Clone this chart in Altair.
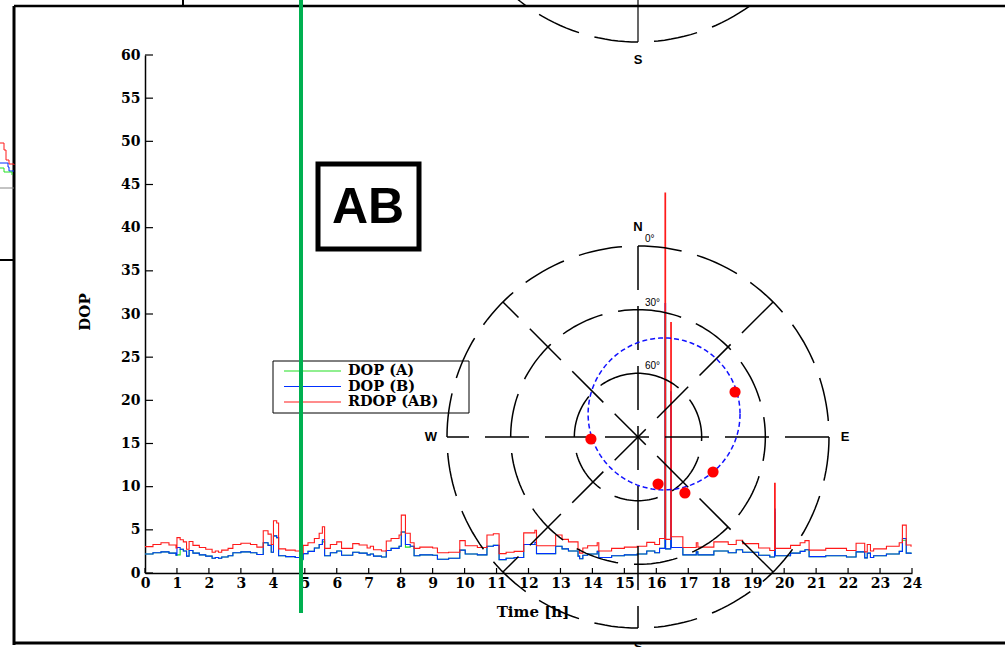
import altair as alt
import numpy as np
import pandas as pd

# ---------------- data ----------------
HOURS = [0.0, 0.25, 0.5, 0.75, 0.97, 1.0, 1.1, 1.2, 1.3, 1.38, 1.5, 1.7, 1.9, 2.1, 2.2, 2.3, 2.4, 2.6,
         2.75, 3.0, 3.3, 3.5, 3.7, 3.85, 3.95, 4.02, 4.12, 4.18, 4.4, 4.7, 4.85, 4.95, 5.1, 5.3, 5.45,
         5.55, 5.62, 5.8, 6.0, 6.15, 6.5, 6.7, 6.95, 7.05, 7.15, 7.4, 7.55, 7.7, 7.95, 8.02, 8.15, 8.3,
         8.42, 8.6, 9.0, 9.15, 9.5, 9.85, 10.02, 10.4, 10.7, 10.9, 11.08, 11.3, 11.55, 11.85, 12.2, 12.25,
         12.85, 13.05, 13.25, 13.55, 13.6, 13.7, 13.85, 14.15, 14.2, 14.6, 15.0, 15.4, 15.7, 15.95, 16.1,
         16.27, 16.29, 16.45, 16.47, 16.83, 17.25, 17.3, 17.8, 18.25, 18.5, 18.7, 19.2, 19.55, 19.7,
         19.72, 20.2, 20.5, 20.65, 20.78, 21.3, 21.95, 22.25, 22.52, 22.6, 22.7, 22.8, 23.2, 23.6, 23.7,
         23.82, 23.97]
RDOP_AB = [3.05, 3.3, 3.5, 3.25, 2.9, 4.1, 3.85, 3.6, 2.75, 3.65, 3.2, 2.95, 2.75, 2.4, 2.55, 2.4, 2.65, 2.85,
           3.3, 3.45, 3.3, 3.0, 4.9, 4.5, 3.3, 6.05, 5.8, 2.8, 2.65, 2.55, 2.3, 3.2, 3.5, 4.0, 4.6,
           5.35, 2.85, 3.3, 3.6, 2.85, 3.4, 3.25, 2.9, 3.1, 2.7, 2.55, 3.7, 4.0, 4.4, 6.7, 4.6, 3.5,
           2.85, 3.0, 2.9, 2.35, 2.4, 3.75, 3.15, 2.95, 4.4, 4.55, 2.25, 2.4, 2.5, 4.65, 4.95, 3.15,
           4.4, 3.9, 3.6, 2.75, 2.3, 2.9, 3.15, 3.5, 2.55, 2.85, 3.0, 3.1, 3.55, 3.3, 4.0,
           44.0, 3.9, 29.0, 4.2, 2.95, 3.5, 3.0, 3.6, 3.3, 3.8, 3.4, 2.9, 2.6, 10.4,
           2.85, 3.2, 3.5, 3.75, 2.65, 2.85, 2.6, 3.45, 2.45, 3.3, 2.55, 2.8, 3.1, 3.5, 5.55,
           3.25, 3.05]
DOP_B = [2.2, 2.35, 2.45, 2.3, 2.05, 2.95, 2.75, 2.55, 1.95, 2.6, 2.3, 2.1, 1.95, 1.7, 1.8, 1.7, 1.85, 2.0,
         2.35, 2.45, 2.35, 2.15, 3.5, 3.2, 2.4, 4.3, 4.1, 2.0, 1.9, 1.8, 1.6, 2.25, 2.5, 2.9, 3.3,
         3.85, 2.0, 2.35, 2.55, 2.05, 2.4, 2.3, 2.1, 2.2, 1.95, 1.85, 2.6, 2.85, 3.1, 4.75, 3.3, 3.1,
         2.0, 2.1, 2.05, 1.6, 1.7, 2.65, 2.2, 2.1, 3.1, 3.2, 1.55, 1.7, 1.8, 3.3, 3.55, 2.25,
         3.1, 2.8, 2.55, 1.95, 1.65, 2.05, 2.2, 2.5, 1.8, 2.0, 2.1, 2.2, 2.55, 2.35, 2.85,
         31.2, 2.8, 21.0, 2.95, 2.1, 2.45, 2.1, 2.55, 2.35, 2.7, 2.4, 2.05, 1.85, 7.4,
         2.0, 2.3, 2.5, 2.7, 1.9, 2.0, 1.85, 2.45, 1.75, 2.3, 1.8, 2.0, 2.2, 2.5, 4.0,
         2.3, 2.2]
DOP_A = [2.2, 2.35, 2.45, 2.3, 2.05, 2.1, 2.75, 2.55, 1.95, 2.6, 2.3, 2.1, 1.95, 1.7, 1.8, 1.7, 1.85, 2.0,
         2.35, 2.45, 2.35, 2.15, 3.5, 3.2, 2.4, 4.3, 4.1, 2.0, 1.9, 1.8, 1.55, 2.25, 2.5, 2.9, 3.3,
         3.6, 2.0, 2.35, 2.55, 2.05, 2.4, 2.3, 2.1, 2.2, 1.95, 1.85, 2.6, 2.85, 3.1, 4.75, 3.0, 3.1,
         2.0, 2.1, 2.05, 1.6, 1.7, 2.65, 2.2, 2.1, 3.1, 3.2, 1.55, 1.7, 1.8, 3.3, 3.3, 2.25,
         3.1, 2.8, 2.55, 1.95, 1.65, 2.05, 2.2, 2.5, 1.8, 2.0, 2.1, 2.2, 2.55, 2.35, 2.85,
         30.0, 2.8, 21.0, 2.95, 2.1, 2.45, 2.1, 2.55, 2.35, 2.7, 2.4, 2.05, 1.85, 7.0,
         2.0, 2.3, 2.5, 2.7, 1.9, 2.0, 1.85, 2.45, 1.75, 2.3, 1.8, 2.0, 2.2, 2.5, 3.8,
         2.3, 2.2]

SERIES_NAMES = ["DOP (A)", "DOP (B)", "RDOP (AB)"]
SERIES_COLORS = ["#22e022", "#0030ff", "#ff1a1a"]
X_TICKS = list(range(0, 25))
Y_TICKS = list(range(0, 61, 5))

# skyplot (azimuth / elevation in degrees)
SAT_AZ = [267.6, 156.9, 140.0, 115.0, 65.1]
SAT_EL = [67.8, 65.9, 55.6, 51.0, 39.6]
RING_EL = [0, 30, 60]
RING_LABELS = ["0°", "30°", "60°"]
SPOKE_AZ = [0, 45, 90, 135]
CONE_AZ, CONE_EL, CONE_RADIUS_DEG = 48.5, 73.6, 35.8

# ---------------- layout (page pixels) ----------------
PLOT_LEFT, PLOT_TOP, PLOT_W, PLOT_H = 145, 55, 767, 518
SKY_CX, SKY_CY, SKY_R = 638, 437, 191
SKY2_CY = -149
SERIF = "DejaVu Serif"
SANS = "Liberation Sans"


def px(x):
    return x - PLOT_LEFT


def py(y):
    return y - PLOT_TOP


def sky_xy(az, el, cx=SKY_CX, cy=SKY_CY):
    r = SKY_R * (90 - np.asarray(el, dtype=float)) / 90.0
    a = np.radians(np.asarray(az, dtype=float))
    return px(cx + r * np.sin(a)), py(cy - r * np.cos(a))


xscale = alt.Scale(domain=[0, 24], nice=False, zero=False)
yscale = alt.Scale(domain=[0, 60], nice=False, zero=False)
NX = dict(scale=None, axis=None)

# ---------------- series ----------------
series_df = pd.concat([
    pd.DataFrame({"h": HOURS, "v": vals, "s": name})
    for name, vals in zip(SERIES_NAMES, [DOP_A, DOP_B, RDOP_AB])
])
color = alt.Color("s:N", scale=alt.Scale(domain=SERIES_NAMES, range=SERIES_COLORS), legend=None)

layers = []
for i, name in enumerate(SERIES_NAMES):
    if i == 0:
        xax = alt.Axis(values=X_TICKS, tickSize=0, labelFont=SERIF, labelFontWeight="bold", labelFontSize=14,
                       labelColor="black", domainColor="black", domainWidth=1.5, grid=False, title=None,
                       labelPadding=3, labelFlush=False, labelOverlap=False)
        yax = alt.Axis(values=Y_TICKS, tickSize=0, labelFont=SERIF, labelFontWeight="bold", labelFontSize=14,
                       labelColor="black", domainColor="black", domainWidth=1.5, grid=False, title=None,
                       labelPadding=5, labelOverlap=False)
    else:
        xax = None
        yax = None
    layers.append(
        alt.Chart(series_df).transform_filter(alt.datum.s == name)
        .mark_line(interpolate="step-after", strokeWidth=1.1)
        .encode(x=alt.X("h:Q", scale=xscale, axis=xax), y=alt.Y("v:Q", scale=yscale, axis=yax), color=color)
    )

# inward ticks
layers.append(alt.Chart(pd.DataFrame({"h": X_TICKS})).mark_rule(color="black", strokeWidth=1.2)
              .encode(x=alt.X("h:Q", scale=xscale, axis=None), y=alt.value(PLOT_H - 5), y2=alt.value(PLOT_H)))
layers.append(alt.Chart(pd.DataFrame({"v": Y_TICKS})).mark_rule(color="black", strokeWidth=1.2)
              .encode(y=alt.Y("v:Q", scale=yscale, axis=None), x=alt.value(0), x2=alt.value(8)))

# axis titles
titles = pd.DataFrame({"t": ["Time [h]"], "x": [px(533)], "y": [py(612)]})
layers.append(alt.Chart(titles).mark_text(font=SERIF, fontWeight="bold", fontSize=15, color="black")
              .encode(x=alt.X("x:Q", **NX), y=alt.Y("y:Q", **NX), text="t:N"))
titles2 = pd.DataFrame({"t": ["DOP"], "x": [px(85)], "y": [py(312)]})
layers.append(alt.Chart(titles2).mark_text(font=SERIF, fontWeight="bold", fontSize=15, color="black", angle=270)
              .encode(x=alt.X("x:Q", **NX), y=alt.Y("y:Q", **NX), text="t:N"))

# legend box
LEG = dict(x1=273, x2=469, y1=361, y2=413, lx1=284, lx2=341, tx=348, ry=371, step=15.5)
layers.append(alt.Chart(pd.DataFrame({"x1": [px(LEG["x1"])], "x2": [px(LEG["x2"])],
                                      "y1": [py(LEG["y1"])], "y2": [py(LEG["y2"])]}))
              .mark_rect(fill="white", stroke="black", strokeWidth=1)
              .encode(x=alt.X("x1:Q", **NX), x2="x2:Q", y=alt.Y("y1:Q", **NX), y2="y2:Q"))
leg_df = pd.DataFrame({"s": SERIES_NAMES, "row": range(3)})
leg_df["y"] = py(LEG["ry"]) + leg_df["row"] * LEG["step"]
leg_df["x1"] = px(LEG["lx1"])
leg_df["x2"] = px(LEG["lx2"])
leg_df["tx"] = px(LEG["tx"])
layers.append(alt.Chart(leg_df).mark_rule(strokeWidth=1.1)
              .encode(x=alt.X("x1:Q", **NX), x2="x2:Q", y=alt.Y("y:Q", **NX), color=color))
layers.append(alt.Chart(leg_df).mark_text(font=SERIF, fontWeight="bold", fontSize=14.5, align="left",
                                          baseline="middle", color="black")
              .encode(x=alt.X("tx:Q", **NX), y=alt.Y("y:Q", **NX), text="s:N"))

# ---------------- skyplot overlay ----------------
t = np.arange(0, 361, 2)
ring_rows = []
for g, el in enumerate(RING_EL):
    xs, ys = sky_xy(t, np.full_like(t, el, dtype=float))
    ring_rows.append(pd.DataFrame({"x": xs, "y": ys, "i": range(len(t)), "g": f"r{g}"}))
# upper (previous) skyplot outer ring
xs, ys = sky_xy(t, np.zeros_like(t, dtype=float), cy=SKY2_CY)
ring_rows.append(pd.DataFrame({"x": xs, "y": ys, "i": range(len(t)), "g": "top"}))
ring_df = pd.concat(ring_rows)
layers.append(alt.Chart(ring_df).mark_line(color="black", strokeWidth=1.5, strokeDash=[44, 16])
              .encode(x=alt.X("x:Q", **NX), y=alt.Y("y:Q", **NX), order="i:Q", detail="g:N"))

spoke_rows = []
for az in SPOKE_AZ:
    xa, ya = sky_xy([az, az + 180], [0, 0])
    spoke_rows.append({"x1": xa[0], "y1": ya[0], "x2": xa[1], "y2": ya[1]})
spoke_df = pd.DataFrame(spoke_rows)
layers.append(alt.Chart(spoke_df).mark_rule(color="black", strokeWidth=1.5, strokeDash=[44, 16])
              .encode(x=alt.X("x1:Q", **NX), y=alt.Y("y1:Q", **NX), x2="x2:Q", y2="y2:Q"))
# upper skyplot: vertical axis piece
xa, ya = sky_xy([0, 180], [90, 0], cy=SKY2_CY)
layers.append(alt.Chart(pd.DataFrame({"x1": [xa[0]], "y1": [ya[0]], "x2": [xa[1]], "y2": [ya[1]]}))
              .mark_rule(color="black", strokeWidth=1.2)
              .encode(x=alt.X("x1:Q", **NX), y=alt.Y("y1:Q", **NX), x2="x2:Q", y2="y2:Q"))

# blue dashed circle
ccx, ccy = sky_xy([CONE_AZ], [CONE_EL])
cr = SKY_R * CONE_RADIUS_DEG / 90.0
tt = np.radians(np.arange(0, 361, 3))
cone_df = pd.DataFrame({"x": ccx[0] + cr * np.cos(tt), "y": ccy[0] + cr * np.sin(tt), "i": range(len(tt))})
layers.append(alt.Chart(cone_df).mark_line(color="#1010ff", strokeWidth=1.5, strokeDash=[5, 3])
              .encode(x=alt.X("x:Q", **NX), y=alt.Y("y:Q", **NX), order="i:Q"))

# satellites
sx, sy = sky_xy(SAT_AZ, SAT_EL)
layers.append(alt.Chart(pd.DataFrame({"x": sx, "y": sy})).mark_circle(color="#ff0000", opacity=1, size=125)
              .encode(x=alt.X("x:Q", **NX), y=alt.Y("y:Q", **NX)))

# skyplot labels
rx, ry = sky_xy([0] * 3, RING_EL)
ring_lab = pd.DataFrame({"t": RING_LABELS, "x": rx + 7, "y": ry - 7})
layers.append(alt.Chart(ring_lab).mark_text(font=SANS, fontSize=10, align="left", baseline="middle", color="black")
              .encode(x=alt.X("x:Q", **NX), y=alt.Y("y:Q", **NX), text="t:N"))
card = pd.DataFrame({"t": ["N", "W", "E", "S"],
                     "x": [px(638), px(431), px(845), px(638)],
                     "y": [py(227), py(437), py(437), py(60)]})
layers.append(alt.Chart(card).mark_text(font=SANS, fontWeight="bold", fontSize=13, baseline="middle", color="black")
              .encode(x=alt.X("x:Q", **NX), y=alt.Y("y:Q", **NX), text="t:N"))
# bottom "S" of the lower skyplot, only its top edge shows at the page border
layers.append(alt.Chart(pd.DataFrame({"t": ["S"], "x": [px(638)], "y": [py(641)]}))
              .mark_text(font=SANS, fontWeight="bold", fontSize=13, baseline="top", color="black")
              .encode(x=alt.X("x:Q", **NX), y=alt.Y("y:Q", **NX), text="t:N"))

# ---------------- collage decorations ----------------
frames = pd.DataFrame({
    "x1": [px(14), px(14), px(14), px(183), px(0), px(0)],
    "x2": [px(1005), px(14), px(1005), px(183), px(14), px(14)],
    "y1": [py(6), py(6), py(643), py(0), py(260), py(188)],
    "y2": [py(6), py(645), py(643), py(6), py(260), py(188)],
    "w": [2.5, 3, 3, 2, 2, 1],
    "c": ["black", "black", "black", "black", "black", "#888888"],
})
layers.append(alt.Chart(frames).mark_rule()
              .encode(x=alt.X("x1:Q", **NX), x2="x2:Q", y=alt.Y("y1:Q", **NX), y2="y2:Q",
                      strokeWidth=alt.StrokeWidth("w:Q", scale=None), color=alt.Color("c:N", scale=None)))
frag = pd.DataFrame({
    "x": [px(v) for v in [0, 4, 6, 9, 14, 0, 8, 9, 14, 0, 3, 4, 12, 12]],
    "y": [py(v) for v in [143, 150, 160, 164, 165, 163, 167, 171, 171, 168, 168, 172, 173, 175]],
    "i": list(range(14)),
    "s": ["RDOP (AB)"] * 5 + ["DOP (B)"] * 4 + ["DOP (A)"] * 5,
})
layers.append(alt.Chart(frag).mark_line(strokeWidth=1, interpolate="step-after")
              .encode(x=alt.X("x:Q", **NX), y=alt.Y("y:Q", **NX), order="i:Q", color=color))

# green bar
layers.append(alt.Chart(pd.DataFrame({"x": [px(301)], "y1": [py(0)], "y2": [py(613)]}))
              .mark_rule(color="#00b050", strokeWidth=4)
              .encode(x=alt.X("x:Q", **NX), y=alt.Y("y1:Q", **NX), y2="y2:Q"))

# AB box
layers.append(alt.Chart(pd.DataFrame({"x1": [px(318)], "x2": [px(419)], "y1": [py(164)], "y2": [py(249)]}))
              .mark_rect(fill="white", stroke="black", strokeWidth=5)
              .encode(x=alt.X("x1:Q", **NX), x2="x2:Q", y=alt.Y("y1:Q", **NX), y2="y2:Q"))
layers.append(alt.Chart(pd.DataFrame({"t": ["AB"], "x": [px(368)], "y": [py(208)]}))
              .mark_text(font=SANS, fontWeight="bold", fontSize=50, baseline="middle", color="black")
              .encode(x=alt.X("x:Q", **NX), y=alt.Y("y:Q", **NX), text="t:N"))

chart = alt.layer(*layers).resolve_scale(x="independent", y="independent").properties(
    width=PLOT_W, height=PLOT_H,
    padding={"left": PLOT_LEFT, "top": PLOT_TOP, "right": 1005 - PLOT_LEFT - PLOT_W,
             "bottom": 647 - PLOT_TOP - PLOT_H},
    autosize=alt.AutoSizeParams(type="none"),
    background="white",
).configure_view(stroke=None)

chart.save("out.html", embed_options={"renderer": "svg", "actions": False})
